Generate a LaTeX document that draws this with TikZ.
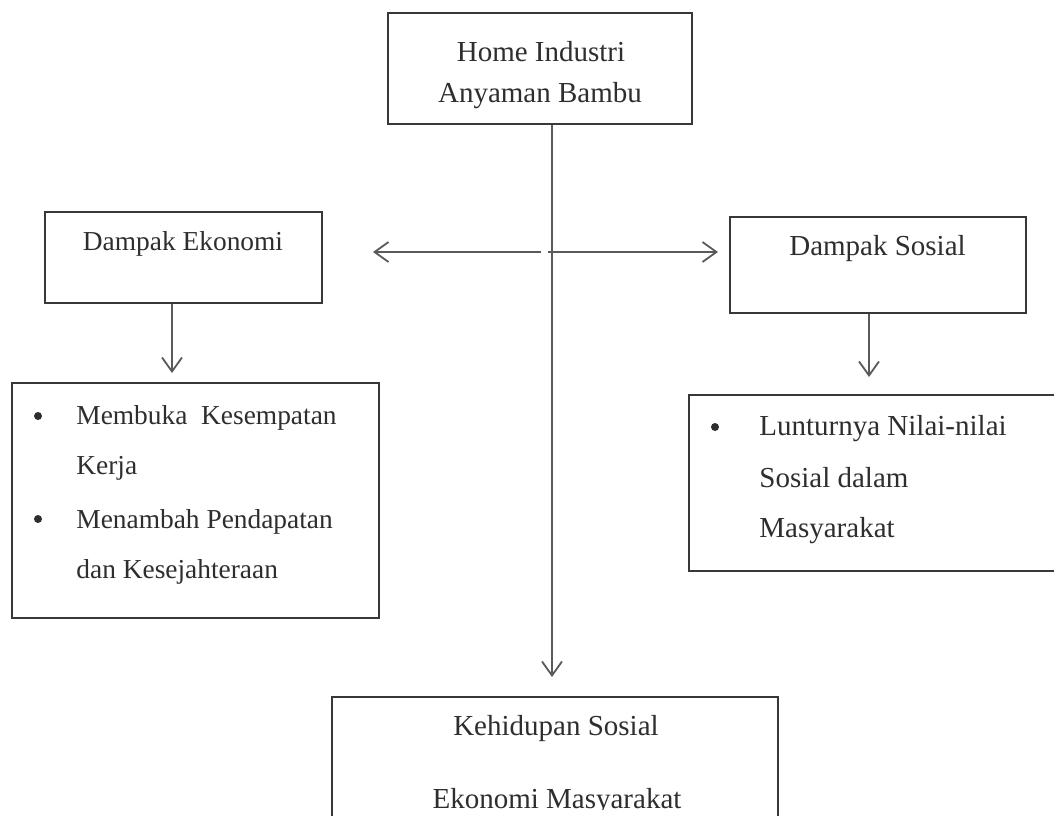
\documentclass[tikz,border=0pt]{standalone}
\usepackage{fontspec}
\setmainfont{Liberation Serif}
\usetikzlibrary{arrows.meta}
\definecolor{ink}{HTML}{2E2E2E}
\definecolor{boxline}{HTML}{383838}
\definecolor{arrline}{HTML}{5A5A5A}
\begin{document}
\begin{tikzpicture}[x=0.5pt,y=-0.5pt,
  box/.style={draw=boxline,line width=1.3pt,rectangle,inner sep=0pt},
  lbl/.style={text=ink,font=\fontsize{14.5}{25}\selectfont,inner sep=0pt,anchor=base},
  lbls/.style={lbl,font=\fontsize{13.7}{25}\selectfont},
  item/.style={lbl,anchor=base west},
  items/.style={lbls,anchor=base west},
  dot/.style={circle,fill=ink,inner sep=0pt,minimum size=4pt},
  conn/.style={draw=arrline,line width=0.9pt,-{Straight Barb[length=7pt,width=10pt,line width=0.9pt]}}]
\useasboundingbox[fill=white] (0,0) rectangle (1054,815);
% boxes
\node[box,minimum width=152pt,minimum height=55.5pt] (top) at (540,68.5) {};
\node[box,minimum width=138.5pt,minimum height=45.5pt] (eko) at (183.5,257.5) {};
\node[box,minimum width=148pt,minimum height=48pt] (sos) at (878,265) {};
\node[box,minimum width=183.5pt,minimum height=117.5pt] (ekolist) at (195.5,500.5) {};
\node[box,minimum width=195.5pt,minimum height=88pt] (soslist) at (884.5,483) {};
\node[box,minimum width=223pt,minimum height=81.5pt] (bottom) at (555,778.5) {};
% texts
\node[lbl] (t1) at (541,61) {Home Industri};
\node[lbl] (t2) at (540,102) {Anyaman Bambu};
\node[lbls] (te) at (183,250) {Dampak Ekonomi};
\node[lbl] (ts) at (877.5,255) {Dampak Sosial};
\node[dot] (b1) at (38,416) {};
\node[items] (e1) at (76,424) {Membuka\ \ Kesempatan};
\node[items] (e2) at (76,474) {Kerja};
\node[dot] (b2) at (38,519) {};
\node[items] (e3) at (76,528) {Menambah Pendapatan};
\node[items] (e4) at (76,578) {dan Kesejahteraan};
\node[dot] (b3) at (715,427) {};
\node[item] (s1) at (759,435) {Lunturnya Nilai-nilai};
\node[item] (s2) at (759,487) {Sosial dalam};
\node[item] (s3) at (759,537) {Masyarakat};
\node[lbl] (k1) at (556,735) {Kehidupan Sosial};
\begin{scope}
\clip (0,0) rectangle (1054,809);
\node[lbl] (k2) at (557,808) {Ekonomi Masyarakat};
\end{scope}
% connectors
\coordinate (vtip) at (552,677);
\draw[conn] (top.south -| vtip) -- (vtip);
\coordinate (hl) at (541,252);
\coordinate (hlt) at (373,252);
\draw[conn] (hl) -- (hlt);
\coordinate (hr) at (548,252);
\coordinate (hrt) at (718,252);
\draw[conn] (hr) -- (hrt);
\coordinate (etip) at (172,373);
\draw[conn] (eko.south -| etip) -- (etip);
\coordinate (stip) at (869,377);
\draw[conn] (sos.south -| stip) -- (stip);
\end{tikzpicture}
\end{document}
